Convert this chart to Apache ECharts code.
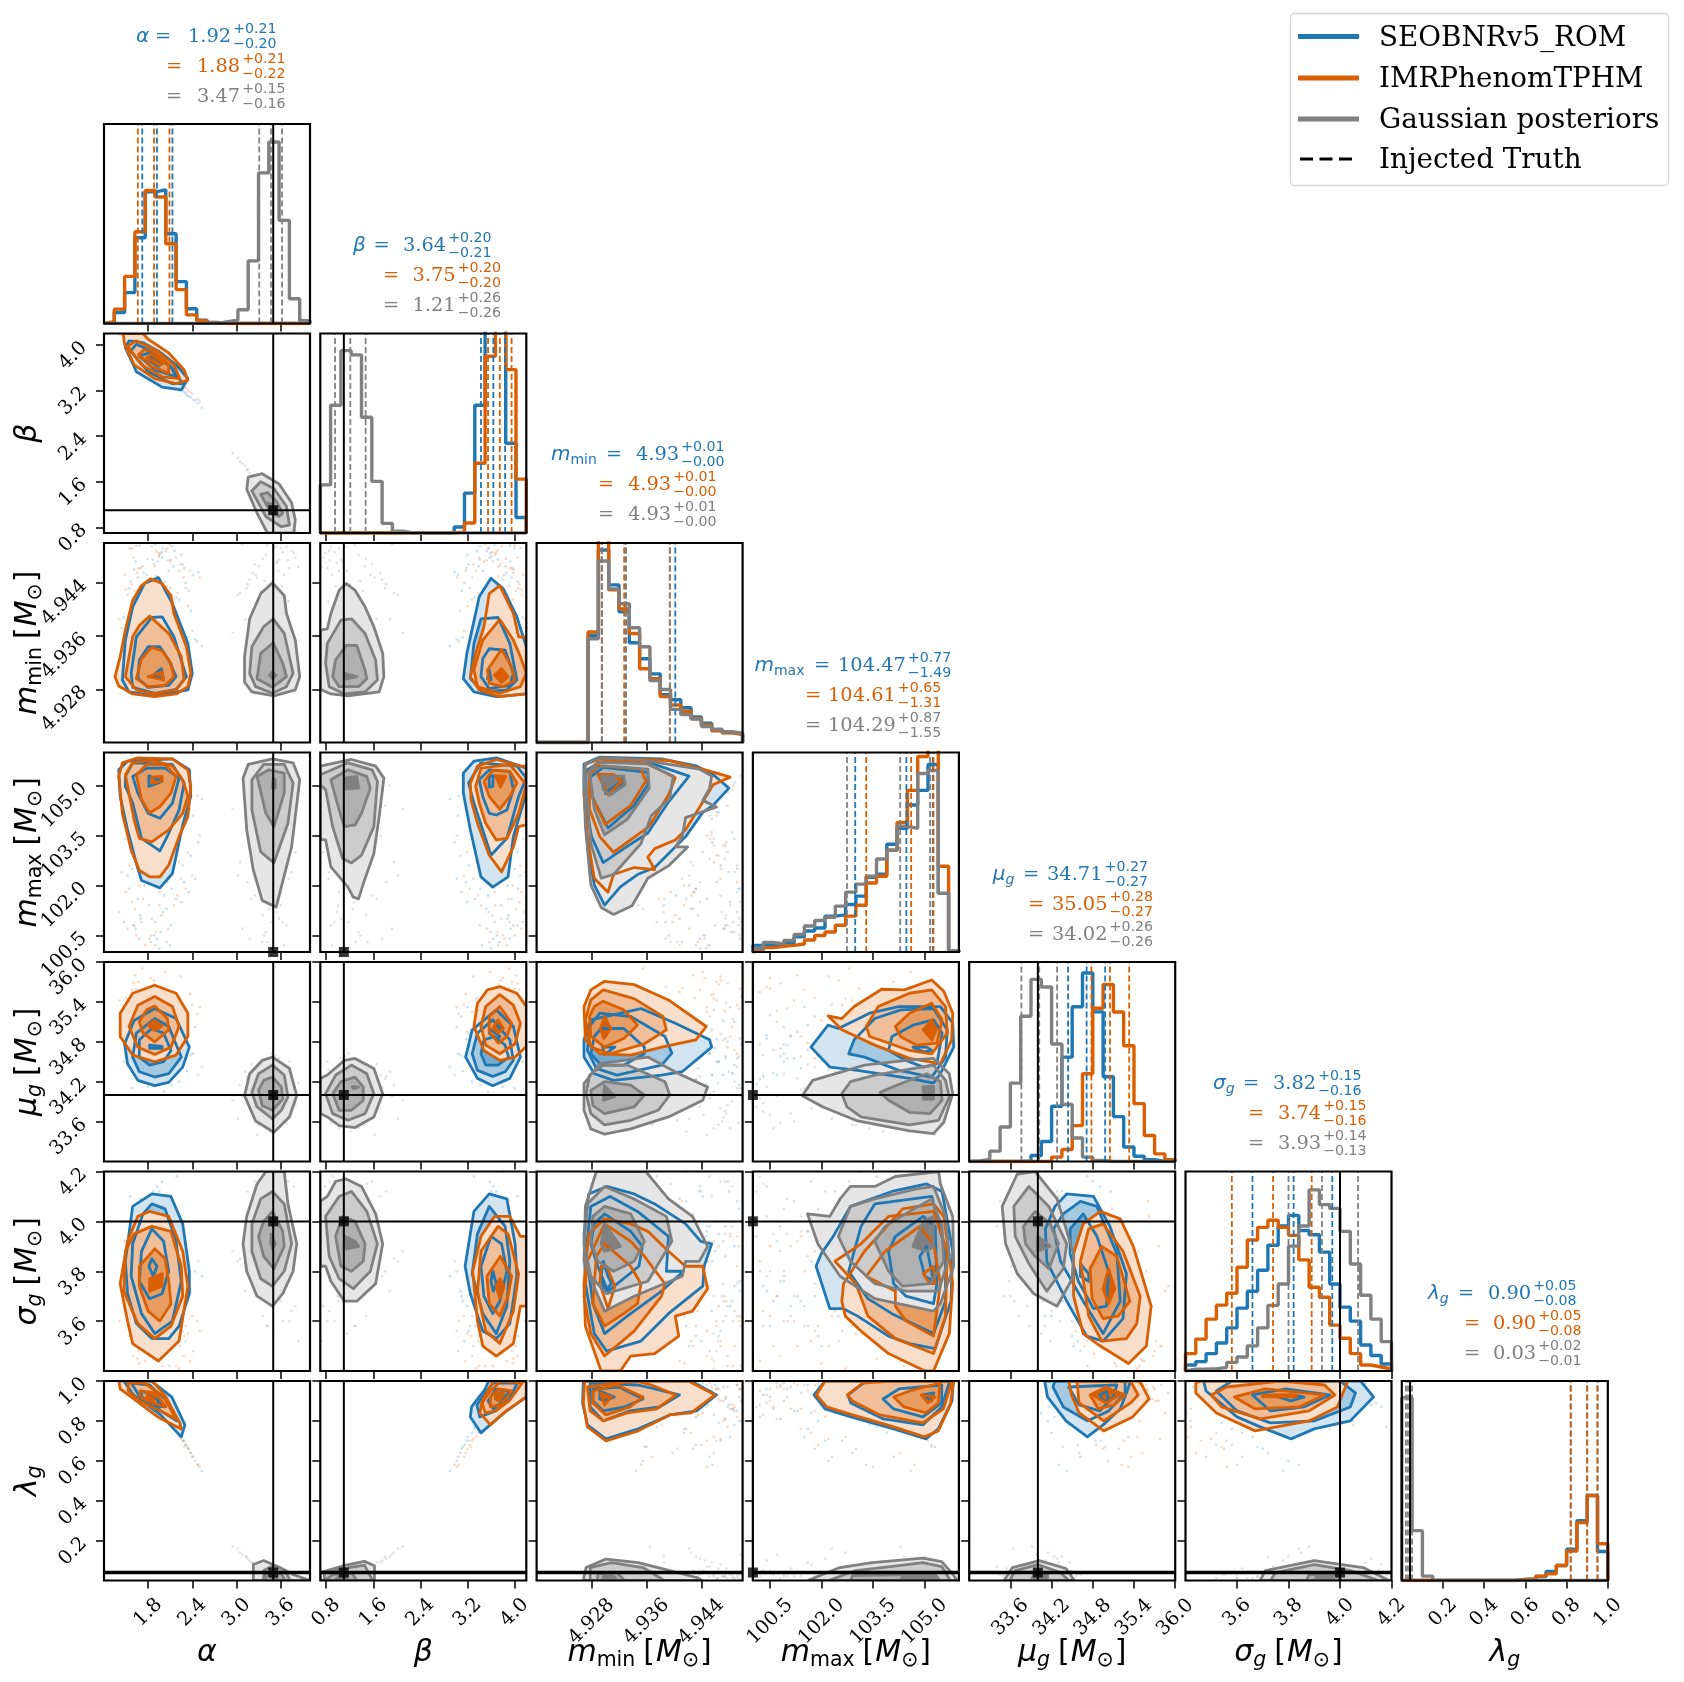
<!DOCTYPE html>
<html><head><meta charset="utf-8">
<style>html,body{margin:0;padding:0;background:#fff}#c{width:1684px;height:1682px}</style>
<script src="https://cdn.jsdelivr.net/npm/echarts@6/dist/echarts.min.js"></script>
</head><body><div id="c"></div><script>
// ---------- axis ranges, ticks, truth ----------
const paramKeys=['alpha','beta','mmin','mmax','mug','sigg','lamg'];
const ranges=[[1.2,4.0],[0.7,4.2],[4.92,4.95],[100,106],[33,36],[3.4,4.2],[0,1]];
const tickLabels=[['1.8','2.4','3.0','3.6'],['0.8','1.6','2.4','3.2','4.0'],['4.928','4.936','4.944'],['100.5','102.0','103.5','105.0'],['33.6','34.2','34.8','35.4','36.0'],['3.6','3.8','4.0','4.2'],['0.2','0.4','0.6','0.8','1.0']];
const truth=[3.5,1.1,null,100,34.0,4.0,0.04];
const seriesNames=['SEOBNRv5_ROM','IMRPhenomTPHM','Gaussian posteriors'];
const colors={b:'#1f77b4',o:'#d95f02',g:'#808080'};
// ---------- histograms (height as % of panel, 20 bins) ----------
const hist_alpha={b:[.5,5.5,15.5,43,66,67,45,21,7.4,1.7,.5,0,0,0,0,0,0,0,0,0],o:[.9,7.2,23.6,46,66.7,63.4,40,17,4.3,1.4,.3,0,0,0,0,0,0,0,0,0],g:[0,0,0,0,0,0,0,0,0,0,0,.9,1.7,6.9,31.4,75.5,91,51.7,12.4,1.4]};
const hist_beta={b:[0,0,0,0,0,0,0,0,0,0,0,0,0,3,20,64,110,110,45,7.8],o:[0,0,0,0,0,0,0,0,0,0,0,0,0,.5,5,35,88.6,110,81.9,27],g:[24.1,64,91.4,89.3,58,25.9,4.8,.9,0,0,0,0,0,0,0,0,0,0,0,0]};
const hist_mmin={b:[0,0,0,0,0,53.7,96.5,79,65.5,50,42,34.4,24,21.4,17.4,12.8,9.7,6.6,5,4.5],o:[0,0,0,0,0,55.4,105,76.5,67,54.6,37,32,23,18.8,15.7,12,8.8,5.9,4.8,4],g:[0,0,0,0,0,52,91,77,69.6,57.5,48,31,26.6,16.6,14,11.7,8,6.6,5.4,4.5]};
const hist_mmax={b:[3.3,3.2,3,4.5,7.6,10.5,12,18,18.6,23.8,28,37.5,39,54,62,73.7,81,94,29.4,.7],o:[1,2.2,2.8,3.3,4,6,8.3,10,13.4,18,23.4,34.6,38,51,65,81,98,105,43,.7],g:[1.9,4.8,4,5.8,8.8,13,15.8,17.4,23,30,34,38,46.6,51,63,62,89.5,91,29.4,.7]};
const hist_mug={b:[0,0,0,0,0,.3,3,10,27.7,52.3,77.6,94.5,75,42.5,22.5,7.3,2.6,.9,0,0],o:[0,0,0,0,0,0,0,0,2.2,6,18,44,76.8,88.7,74.9,58,29,13,3.8,.9],g:[.3,1,5.2,17.3,39.3,72.8,91.3,87.5,58.9,28.6,11.8,2.2,.5,0,0,0,0,0,0,0]};
const hist_sigg={b:[3,4.7,8.7,14,21.6,31.5,40,50.5,63,72.7,78,70.4,68.3,59.6,43.6,32,25,13,7.8,3.5],o:[8.7,16,26,33,39,52,65.7,72,75.6,72,68,55.7,42,37,23,16.4,8.7,3,2,1],g:[.9,.9,1.2,1.7,4.3,7,12.6,21.6,32.9,43.6,62.6,72.7,90.8,83.4,81.5,70,53.6,38,26,14.7]};
const hist_lamg={b:[0,0,0,0,0,0,0,0,0,0,0,.5,.8,2,4.5,7.5,15.7,30,42.6,14.5],o:[0,0,0,0,0,0,0,0,0,0,0,.5,.8,2.2,3.3,7.5,14.7,29,42.6,18.4],g:[91.6,25,2.2,0,0,0,0,0,0,0,0,0,0,0,0,0,0,0,0,0]};
const hists=[hist_alpha,hist_beta,hist_mmin,hist_mmax,hist_mug,hist_sigg,hist_lamg];
// ---------- quantiles (16,50,84) ----------
const quant_b=[[1.72,1.92,2.13],[3.43,3.64,3.84],[4.9295,4.933,4.9402],[102.98,104.47,105.24],[34.44,34.71,34.98],[3.66,3.82,3.97],[.82,.9,.95]];
const quant_o=[[1.66,1.88,2.09],[3.55,3.75,3.95],[4.9295,4.93275,4.9394],[103.3,104.61,105.26],[34.78,35.05,35.33],[3.58,3.74,3.89],[.82,.9,.95]];
const quant_g=[[3.31,3.47,3.62],[.95,1.21,1.47],[4.9295,4.933,4.9394],[102.74,104.29,105.16],[33.76,34.02,34.28],[3.8,3.93,4.07],[.02,.03,.05]];
// ---------- title numbers ----------
const titleVals=[
 [['1.92','+0.21','−0.20'],['1.88','+0.21','−0.22'],['3.47','+0.15','−0.16']],
 [['3.64','+0.20','−0.21'],['3.75','+0.20','−0.20'],['1.21','+0.26','−0.26']],
 [['4.93','+0.01','−0.00'],['4.93','+0.01','−0.00'],['4.93','+0.01','−0.00']],
 [['104.47','+0.77','−1.49'],['104.61','+0.65','−1.31'],['104.29','+0.87','−1.55']],
 [['34.71','+0.27','−0.27'],['35.05','+0.28','−0.27'],['34.02','+0.26','−0.26']],
 [['3.82','+0.15','−0.16'],['3.74','+0.15','−0.16'],['3.93','+0.14','−0.13']],
 [['0.90','+0.05','−0.08'],['0.90','+0.05','−0.08'],['0.03','+0.02','−0.01']]];
// ---------- posterior sample rows: alpha,beta,mmin,mmax,mug,sigg,lamg ----------
const samples_b=[[1.72,3.85,4.9465,104.2,34.5,3.95,.96],[2.05,3.52,4.9425,101.3,34.95,3.7,.85],[1.95,3.61,4.948,102.4,34.35,4.12,.88],[2.22,3.28,4.9415,103.9,34.2,3.62,.74],[1.61,3.98,4.946,100.8,34.7,3.88,.98],[1.88,3.7,4.9392,100.5,35.2,3.58,.92],[2.31,3.15,4.944,105.2,34.58,3.52,.68],[2.12,3.42,4.9495,101.9,34.15,4.05,.8],[1.78,3.82,4.9452,102.8,34.62,3.98,.95],[1.99,3.58,4.9478,104.8,34.8,4.16,.87],[2.44,3.02,4.9355,102.2,35.02,3.8,.6],[1.69,3.9,4.9435,101.1,34.88,3.66,.97],[2.16,3.36,4.9488,103.4,34.45,3.9,.78],[1.84,3.74,4.9412,100.3,34.28,3.74,.93],[1.93,3.63,4.9472,105,35.12,3.6,.9],[2.02,3.55,4.9403,101.7,34.05,3.84,.84],[1.56,4.05,4.9442,103,34.66,4.1,.99],[2.27,3.22,4.9468,102.6,34.92,3.56,.7],[1.81,3.77,4.9385,101.4,34.4,4.02,.94],[1.9,3.66,4.9498,100.9,34.76,3.76,.9],[2.08,3.47,4.9458,104.5,35.28,3.92,.83],[1.75,3.88,4.9422,102,34.52,3.5,.96],[2.19,3.31,4.9375,103.6,34.72,4.18,.77],[1.97,3.59,4.9485,100.6,34.33,3.68,.86],[1.66,3.95,4.9448,101.6,35.05,3.96,.98],[2.38,3.08,4.9398,102.9,34.6,3.72,.64],[1.86,3.72,4.9475,103.2,34.85,3.86,.91],[2.1,3.45,4.9432,100.2,34.24,3.8,.82],[1.74,3.86,4.9455,104,34.98,3.64,.95],[2,3.56,4.9492,101.2,34.55,4.08,.85],[2.53,2.9,4.9345,104.6,34.42,3.78,.55],[1.52,4.1,4.9362,102.3,34.68,3.84,.99],[2.14,3.39,4.9465,105.4,34.5,3.54,.79],[1.92,3.64,4.9438,100.4,34.9,4.14,.89],[2.25,3.2,4.9482,101.5,35.32,3.66,.72],[1.8,3.8,4.9418,103.1,34.12,4.2,.94],[1.63,3.93,4.9472,100.7,34.3,3.92,.97],[2.35,3.1,4.9428,101.8,35.18,3.7,.66],[1.58,4,4.9492,102.5,34.1,3.62,.98],[2.41,3.04,4.9452,104.1,34.62,3.48,.62],[1.7,3.88,4.9408,101,34.75,4.09,.96],[2.07,3.49,4.9378,103.7,34.98,3.88,.84],[1.47,4.14,4.9388,100.9,34.5,3.78,.99],[2.29,3.18,4.9462,102.1,34.84,4,.7],[1.95,3.6,4.9447,100.1,34.16,3.94,.87],[2.04,3.53,4.9488,105.1,35.1,3.74,.85],[1.76,3.84,4.9368,102.7,34.42,4.06,.95],[2.18,3.33,4.9418,101.6,34.68,3.58,.76],[2.48,2.98,4.9456,103.3,34.3,3.84,.58],[1.68,3.92,4.9496,100.4,34.85,3.72,.96],[1.87,3.69,4.9348,104.3,35.06,4.12,.92],[2.11,3.41,4.9475,100.8,34.58,3.98,.81],[1.54,4.06,4.9432,101.9,34.72,3.54,.98],[2.33,3.12,4.9358,105.3,34.36,3.68,.67]];
const samples_o=[[1.65,3.98,4.9455,103.6,35.5,3.45,.97],[1.98,3.62,4.9402,101.1,34.9,3.9,.86],[1.88,3.76,4.9468,102.5,35.72,3.52,.9],[2.18,3.4,4.9478,104.4,34.72,3.42,.77],[1.52,4.12,4.9422,100.7,35.1,3.7,.99],[1.82,3.83,4.9388,100.4,35.62,4.02,.93],[2.28,3.28,4.9448,105.1,35.25,3.46,.7],[2.06,3.55,4.9492,102.1,34.62,3.82,.82],[1.7,3.93,4.9462,102.9,35.42,3.58,.96],[1.94,3.68,4.9485,104.9,35.02,3.98,.88],[2.4,3.14,4.9368,102.3,35.36,3.62,.62],[1.62,4.02,4.9428,101.3,35.8,3.5,.98],[2.1,3.48,4.9472,103.2,34.82,3.75,.8],[1.76,3.87,4.9408,100.2,35.55,3.44,.95],[1.89,3.73,4.9465,105.2,35.66,3.66,.91],[1.96,3.66,4.9395,101.8,34.55,3.56,.85],[1.48,4.15,4.9452,103.4,35.18,3.92,.99],[2.22,3.35,4.9458,102.7,35.45,3.41,.72],[1.73,3.9,4.9378,101.6,34.78,3.86,.95],[1.85,3.78,4.9495,101,35.3,3.6,.92],[2.03,3.58,4.9442,104.6,35.85,3.72,.84],[1.68,3.97,4.9415,102,35.12,3.43,.97],[2.13,3.44,4.9382,103.8,35.08,4.05,.78],[1.91,3.71,4.9488,100.6,34.68,3.5,.87],[1.58,4.08,4.9438,101.5,35.58,3.8,.98],[2.34,3.2,4.9405,103,34.95,3.55,.66],[1.79,3.85,4.9476,103.3,35.38,3.68,.92],[2.05,3.57,4.9435,100.3,34.6,3.64,.83],[1.67,3.96,4.9462,104.1,35.7,3.48,.96],[1.95,3.67,4.9482,101.4,34.88,3.94,.86],[2.47,3.05,4.9352,104.7,35.22,3.6,.58],[1.44,4.18,4.9372,102.4,35.05,3.7,.99],[2.09,3.5,4.9498,105.3,35.48,3.42,.8],[1.84,3.8,4.9445,100.5,35.76,3.9,.9],[2.2,3.38,4.9425,101.7,34.72,3.52,.74],[1.75,3.9,4.9412,103.1,35.6,4.08,.95],[1.6,4.05,4.9478,100.8,35.68,3.46,.97],[2.31,3.24,4.9432,101.9,34.85,3.58,.68],[1.55,4.1,4.9492,102.6,35.35,3.94,.98],[2.37,3.17,4.9458,104.3,35.52,3.44,.64],[1.71,3.92,4.9398,100.9,35.02,3.8,.96],[2.01,3.6,4.9362,103.6,34.66,3.66,.85],[1.41,4.18,4.9385,101.2,35.42,3.6,.99],[2.24,3.3,4.9468,102.2,35.78,3.5,.71],[1.9,3.72,4.945,100.2,34.76,3.84,.88],[1.99,3.63,4.9486,105,35.14,3.42,.86],[1.72,3.91,4.9355,102.8,35.9,3.74,.94],[2.15,3.43,4.9415,101.4,34.58,3.96,.76],[2.5,3.02,4.9448,103.5,35.32,3.56,.57],[1.64,4,4.9496,100.5,35.6,3.62,.96],[1.83,3.79,4.9345,104.2,34.82,3.47,.92],[2.07,3.53,4.9474,100.7,35.26,3.7,.81],[1.5,4.12,4.943,101.8,35.46,3.88,.98],[2.29,3.26,4.936,105.2,34.98,3.54,.67]];
const samples_g=[[3.22,1.72,4.9455,103.5,34.3,4.1,.09],[3.55,.98,4.947,101.2,33.6,3.7,.02],[3.4,1.35,4.9482,100.6,33.5,3.95,.03],[3.05,1.95,4.9425,102.7,34.15,3.85,.14],[3.72,.82,4.9462,104.2,34.5,3.6,.01],[3.35,1.5,4.9395,100.3,33.75,4.15,.05],[3.6,1.02,4.9492,101.8,34.42,3.75,.02],[3.28,1.62,4.9448,105.3,33.4,3.98,.07],[3.48,1.18,4.9375,100.9,34.62,4.05,.03],[3.8,.75,4.9478,103,33.85,3.66,.01],[3.15,1.82,4.9438,102.1,34.28,4.12,.11],[3.52,1.1,4.9405,104.7,33.62,3.82,.02],[3.42,1.28,4.9497,101.5,34.1,3.58,.04],[3.65,.9,4.9452,100.2,33.95,4.18,.02],[3.3,1.45,4.9465,102.9,33.55,3.9,.06],[3.12,1.88,4.9385,105,34.35,3.72,.12],[3.58,1.05,4.9475,101,34.55,3.95,.02],[3.45,1.22,4.9418,103.8,33.45,4.08,.03],[3.75,.85,4.9488,102.4,34.2,3.64,.01],[3.38,1.38,4.9443,100.5,33.7,3.8,.05],[3.62,.96,4.9435,104.9,34.4,4,.02],[3.25,1.58,4.9468,101.7,33.8,4.16,.08],[3.5,1.15,4.9458,103.2,34.05,3.55,.03],[2.95,2.1,4.9365,104.3,33.92,3.88,.17],[3.68,.88,4.9494,100.8,33.58,3.76,.01],[3.33,1.42,4.9428,102.6,34.48,4.03,.05],[3.55,1.08,4.9472,105.2,33.66,3.68,.02],[3.44,1.25,4.9355,101.3,34.25,3.92,.04],[3.78,.78,4.9485,103.6,33.9,4.14,.01],[3.18,1.75,4.9445,100.4,34.12,3.78,.1],[3.36,1.48,4.9476,101.1,33.72,3.62,.06],[3.71,.84,4.9412,102.2,34.38,3.86,.02],[3.08,1.92,4.9498,100.7,33.98,4,.13],[3.57,1.02,4.9458,103.4,33.5,3.7,.02],[3.2,1.66,4.9386,101.6,34.46,3.96,.09],[3.47,1.2,4.9438,100.1,33.82,4.12,.03],[3.84,.72,4.9464,104.8,34.18,3.52,.01],[3.02,2.02,4.9422,102.3,33.64,3.84,.16],[3.63,.94,4.9486,100.9,34.32,3.6,.02],[3.39,1.33,4.9368,103,33.55,4.06,.04],[3.26,1.55,4.9452,105.1,34.02,3.74,.07],[3.53,1.12,4.9494,101.9,34.58,3.9,.03],[3.42,1.3,4.9405,100.3,33.88,3.58,.04],[3.7,.86,4.9474,102.8,33.76,4.16,.02],[3.14,1.8,4.9432,104.4,34.24,3.8,.12],[3.6,1,4.9348,101.4,34.08,3.68,.02]];
// ---------- contour rings in data units: outer to inner, [xs,ys] or flat x,y pairs ----------
const alpha_beta={b:[[[1.49,1.64,1.99,2.25,2.34,2.18,1.94,1.73,1.54],[3.95,3.53,3.26,3.21,3.41,3.65,3.89,4.04,4.07]],[[1.56,1.8,2.13,2.27,2.15,1.85,1.64],[3.89,3.53,3.32,3.32,3.56,3.89,4.01]],[[1.68,1.89,2.18,2.11,1.85],[3.8,3.56,3.44,3.62,3.88]],[[1.8,1.94,1.99,1.87],[3.74,3.62,3.68,3.8]]],
o:[[[1.46,1.48,1.61,1.89,2.18,2.34,2.29,2.08,1.8,1.73],[4.2,4.01,3.65,3.41,3.32,3.38,3.56,3.86,4.1,4.2]],[[1.52,1.71,1.99,2.23,2.15,1.89,1.64],[3.98,3.65,3.44,3.41,3.65,3.92,4.07]],[[1.67,1.85,2.08,2.08,1.89,1.75],[3.83,3.62,3.5,3.65,3.86,3.92]],[[1.78,1.94,2.01,1.85],[3.77,3.65,3.68,3.83]]],
g:[[[3.14,3.16,3.35,3.58,3.75,3.8,3.78,3.42,3.28],[1.47,1.68,1.74,1.56,1.23,.93,.7,.7,1.05]],[[3.21,3.33,3.51,3.68,3.72,3.61,3.4],[1.44,1.6,1.48,1.17,.84,.81,.99]],[[3.33,3.42,3.54,3.63,3.58,3.47],[1.38,1.41,1.26,1.05,.99,1.05]],[[3.42,3.49,3.54,3.49],[1.23,1.2,1.11,1.05]]]};
const alpha_mmin={b:[[[1.94,2.13,2.34,2.4,2.34,1.89,1.54,1.45,1.49,1.59,1.75],[4.9448,4.9409,4.9349,4.9304,4.9279,4.927,4.9276,4.9294,4.9354,4.9404,4.9439]],[[1.85,1.99,2.15,2.32,2.18,1.89,1.59,1.57,1.64],[4.9388,4.9389,4.9359,4.9299,4.928,4.9274,4.9283,4.9304,4.9359]],[[1.8,1.96,2.08,2.18,2.08,1.8,1.66,1.68],[4.9344,4.9344,4.9324,4.9299,4.9286,4.9283,4.9296,4.9324]],[[1.87,1.98,2.01],[4.9301,4.9311,4.9294]]],
o:[[[1.83,1.99,2.11,2.15,2.32,2.38,2.34,2.18,1.89,1.59,1.4,1.35,1.42,1.49,1.59,1.71],[4.9446,4.9439,4.9421,4.9394,4.9344,4.9304,4.9284,4.9273,4.9269,4.9273,4.9285,4.9299,4.9329,4.9369,4.9414,4.9436]],[[1.82,2.08,2.25,2.29,2.18,1.89,1.64,1.49,1.59,1.68],[4.939,4.9364,4.9329,4.9294,4.9279,4.9273,4.9279,4.9299,4.9359,4.9376]],[[1.85,1.99,2.11,2.15,2.03,1.8,1.64,1.71],[4.9343,4.9338,4.9319,4.9299,4.9286,4.9284,4.9296,4.9326]],[[1.8,1.99,2.01],[4.9299,4.9306,4.9294]]],
g:[[[3.49,3.65,3.68,3.8,3.86,3.8,3.51,3.21,3.11,3.11,3.18,3.33],[4.944,4.9421,4.9394,4.9354,4.9299,4.9279,4.927,4.9276,4.9291,4.9329,4.9386,4.9424]],[[3.5,3.65,3.77,3.68,3.49,3.26,3.18,3.21,3.37],[4.9386,4.9364,4.9304,4.9284,4.9274,4.9284,4.9304,4.9344,4.9374]],[[3.5,3.63,3.68,3.49,3.28,3.33],[4.935,4.9319,4.9299,4.9283,4.9296,4.9334]],[[3.49,3.54,3.49,3.45],[4.9306,4.9301,4.9296,4.9301]]]};
const beta_mmin={b:[[[3.6,3.81,4.04,4.2,4.2,3.69,3.31,3.13,3.19,3.4],[4.9447,4.9431,4.9389,4.9344,4.9273,4.9269,4.9276,4.9296,4.9334,4.9419]],[[3.43,3.72,3.92,4.04,3.87,3.46,3.25,3.31],[4.9386,4.9388,4.9349,4.9294,4.9279,4.9276,4.9296,4.9349]],[[3.57,3.84,3.98,3.92,3.57,3.43,3.46],[4.9341,4.9339,4.9304,4.9286,4.9281,4.9299,4.9326]],[[3.57,3.6,3.54],[4.9309,4.9294,4.9296]]],
o:[[[3.75,3.98,4.07,4.2,4.2,3.75,3.4,3.25,3.34,3.48,3.57],[4.9436,4.9394,4.9359,4.9358,4.9273,4.9269,4.9279,4.9299,4.9334,4.9374,4.9424]],[[3.75,3.98,4.1,4.2,4.1,3.75,3.37,3.31,3.46],[4.9385,4.9354,4.9329,4.9304,4.9284,4.9274,4.9284,4.9309,4.9354]],[[3.78,3.95,4.01,3.81,3.57,3.54],[4.934,4.9314,4.9294,4.9284,4.9289,4.9309]],[[3.78,3.89,3.78,3.66],[4.9311,4.9299,4.929,4.9301]]],
g:[[[.7,.82,.88,1.02,1.14,1.29,1.46,1.61,1.76,1.78,1.7,1.17,.88,.7],[4.9369,4.9371,4.9394,4.9429,4.9439,4.9429,4.9404,4.9374,4.9334,4.9299,4.9276,4.927,4.9273,4.928]],[[.82,1.05,1.23,1.46,1.64,1.67,1.46,1.11,.85,.79],[4.9349,4.9384,4.9386,4.9364,4.9324,4.9294,4.9276,4.9273,4.9284,4.9319]],[[.96,1.14,1.32,1.46,1.49,1.35,1.02,.91],[4.9324,4.9346,4.9346,4.9309,4.9296,4.9284,4.9284,4.9299]],[[1.11,1.32,1.11],[4.9304,4.9299,4.9295]]]};
const alpha_mmax={b:[[[1.4,1.52,2.13,2.36,2.38,2.27,2.13,1.96,1.71,1.64,1.52,1.42],[105.48,105.74,105.81,105.48,104.68,103.82,102.36,101.93,102.15,102.66,103.67,104.68]],[[1.49,1.59,2.13,2.29,2.22,2.08,1.96,1.71,1.59,1.49],[105.28,105.69,105.64,105.08,104.27,103.57,103.04,103.42,104.48,104.98]],[[1.59,1.78,2.03,2.22,2.13,1.96,1.8,1.66],[105.28,105.53,105.53,105.23,104.48,104.02,104.17,104.78]],[[1.81,1.99,1.81],[105.3,105.13,104.98]]],
o:[[[1.4,1.45,1.66,2.13,2.34,2.38,2.34,2.22,2.08,1.96,1.82,1.68,1.57,1.45],[105.28,105.69,105.84,105.81,105.48,104.98,104.07,103.47,102.61,102.26,102.26,102.46,103.06,104.17]],[[1.49,1.59,1.85,2.13,2.27,2.34,2.27,2.08,1.85,1.68,1.61],[105.33,105.69,105.77,105.59,105.18,104.68,104.17,103.67,103.31,103.42,103.97]],[[1.64,1.78,2.03,2.18,2.11,1.96,1.82,1.71],[105.33,105.64,105.64,105.28,104.78,104.37,104.19,104.58]],[[1.85,1.99,1.99,1.85],[105.26,105.28,105.13,105.08]]],
g:[[[3.09,3.16,3.49,3.77,3.86,3.8,3.75,3.54,3.35,3.23,3.14],[105.23,105.64,105.81,105.69,105.18,104.07,103.16,101.35,101.55,102.46,103.67]],[[3.21,3.37,3.65,3.77,3.7,3.51,3.33,3.21],[105.18,105.64,105.64,105.08,103.87,102.68,103.01,104.27]],[[3.28,3.44,3.65,3.65,3.51,3.4],[105.28,105.48,105.38,104.78,103.77,104.17]],[[3.5,3.53,3.53,3.49],[105.23,105.18,104.93,104.93]]]};
const beta_mmax={b:[[[3.13,3.31,3.69,4.2,4.2,3.98,3.89,3.63,3.43,3.25,3.13],[105.38,105.74,105.84,105.53,104.78,103.47,102.26,101.95,102.26,103.67,104.78]],[[3.22,3.43,4.04,4.2,4.07,3.87,3.6,3.46,3.31],[105.08,105.69,105.59,105.23,104.68,103.42,102.91,103.67,104.48]],[[3.4,3.57,3.92,3.98,3.87,3.69,3.57,3.46],[105.18,105.48,105.43,104.88,104.27,104.12,104.17,104.68]],[[3.57,3.64,3.63,3.57],[105.28,105.3,104.98,104.96]]],
o:[[[3.25,3.37,3.69,4.1,4.2,4.2,4.07,3.98,3.78,3.57,3.37,3.26],[105.08,105.59,105.79,105.59,105.59,103.82,103.77,103.16,102.41,102.91,103.87,104.58]],[[3.34,3.43,3.92,4.2,4.07,3.87,3.69,3.51,3.4],[104.98,105.53,105.64,105.03,104.17,103.42,103.37,103.87,104.48]],[[3.48,3.63,3.92,4.04,3.92,3.75,3.57],[105.13,105.46,105.43,105.08,104.68,104.29,104.68]],[[3.68,3.85,3.76],[105.3,105.28,104.96]]],
g:[[[.7,1.23,1.64,1.78,1.7,1.61,1.43,1.35,1.26,1.17,.88,.79,.7],[105.59,105.79,105.59,105.23,104.07,102.96,102.05,101.6,101.65,101.95,102.56,103.37,103.39]],[[.7,1.17,1.58,1.67,1.61,1.4,1.23,1.08,.91,.79,.7],[105.33,105.69,105.48,105.13,103.77,102.91,102.68,102.81,103.77,104.88,105.03]],[[.88,1.17,1.49,1.55,1.4,1.29,1.11,1.02],[105.18,105.48,105.28,104.93,104.17,103.82,103.77,104.27]],[[1.11,1.32,1.35,1.14],[105.23,105.28,104.93,104.9]]]};
const mmin_mmax={b:[[[4.9269,4.9269,4.9292,4.9382,4.9432,4.9457,4.948,4.9457,4.9442,4.9417,4.9372,4.9347,4.9322,4.9299,4.9284,4.9274],[104.82,105.65,105.86,105.81,105.6,105.34,104.93,104.41,104.2,103.47,102.54,102.33,101.96,101.41,102.02,103.26]],[[4.9272,4.9292,4.9362,4.9422,4.9392,4.9362,4.9327,4.9297,4.928,4.9272],[105.45,105.71,105.71,105.29,104.51,103.58,103.11,102.69,103.47,104.41]],[[4.9277,4.9297,4.9362,4.9362,4.9342,4.9304,4.9282],[105.24,105.55,105.4,105.03,104.41,103.73,104.62]],[[4.93,4.9327,4.9317],[104.77,105.19,104.88]]],
o:[[[4.9269,4.9271,4.9297,4.9392,4.9442,4.9482,4.9457,4.9442,4.9417,4.9402,4.9372,4.9362,4.9372,4.9342,4.9312,4.9304,4.9284,4.9274],[104.72,105.65,105.84,105.76,105.5,105.26,105.03,104.51,103.68,103.37,103.11,102.85,102.48,102.54,102.33,101.8,102.22,103.47]],[[4.9277,4.9297,4.9357,4.9402,4.9392,4.9364,4.9312,4.9292,4.9277],[105.45,105.76,105.71,105.24,104.72,103.78,103,103.47,104.3]],[[4.9277,4.9292,4.9352,4.9359,4.9337,4.93,4.9282],[105.34,105.6,105.5,105.14,104.41,103.84,104.62]],[[4.9289,4.9312,4.9324,4.9304],[105.34,105.34,105.14,104.72]]],
g:[[[4.9269,4.9271,4.9292,4.9352,4.9437,4.9455,4.9452,4.9442,4.9462,4.9417,4.9412,4.9402,4.942,4.9392,4.9362,4.9339,4.9312,4.9294,4.9279,4.9271],[105.24,105.65,105.84,105.78,105.5,105.29,104.93,104.56,104.36,104.04,103.47,103.16,103.16,102.59,102.22,101.39,101.13,101.34,102.02,103.78]],[[4.9271,4.9289,4.9362,4.9399,4.9394,4.9367,4.9352,4.9312,4.9294,4.9279],[105.34,105.71,105.65,105.29,104.62,104.1,103.26,102.33,102.22,103.26]],[[4.9277,4.9297,4.9362,4.9364,4.9332,4.9299,4.9284],[105.45,105.6,105.5,104.93,103.99,103.52,104.3]],[[4.9294,4.9327,4.9329,4.9307,4.9297],[105.29,105.29,105.03,104.72,104.88]]]};
const alpha_mug={b:[[[1.89,2.18,2.36,2.27,2.08,1.89,1.66,1.52,1.48,1.61],[35.3,35.15,34.72,34.42,34.19,34.14,34.22,34.47,34.77,35.12]],[[1.89,2.08,2.25,2.08,1.89,1.68,1.59,1.64],[35.15,35.03,34.57,34.32,34.27,34.35,34.57,34.93]],[[1.85,2.01,2.11,2.01,1.82,1.68,1.68],[35,34.93,34.67,34.5,34.45,34.57,34.83]],[[1.82,1.99,1.99,1.82],[34.75,34.73,34.7,34.7]]],
o:[[[1.89,2.18,2.34,2.34,2.18,1.89,1.59,1.42,1.42,1.59],[35.65,35.53,35.23,34.88,34.6,34.5,34.6,34.88,35.23,35.53]],[[1.89,2.13,2.22,2.11,1.89,1.66,1.54,1.66],[35.48,35.33,35.03,34.72,34.61,34.72,35.03,35.35]],[[1.89,2.06,2.08,1.89,1.73,1.68,1.78],[35.34,35.15,34.98,34.8,34.93,35.1,35.28]],[[1.8,1.89,1.99,1.89],[35.05,35.12,35.04,34.97]]],
g:[[[3.49,3.72,3.82,3.72,3.51,3.26,3.11,3.18,3.35],[34.57,34.4,33.99,33.67,33.44,33.61,33.99,34.32,34.52]],[[3.49,3.65,3.7,3.61,3.49,3.28,3.21,3.3],[34.45,34.3,33.97,33.77,33.64,33.82,34.04,34.32]],[[3.49,3.61,3.63,3.49,3.35,3.3,3.37],[34.27,34.12,33.94,33.77,33.84,34.07,34.22]],[[3.47,3.54,3.54,3.47],[34.04,34.02,33.94,33.94]]]};
const beta_mug={b:[[[3.69,3.98,4.1,3.92,3.63,3.37,3.17,3.28],[35.28,35.03,34.57,34.25,34.14,34.25,34.57,34.98]],[[3.63,3.92,3.98,3.84,3.63,3.37,3.28,3.37],[35.13,34.83,34.52,34.35,34.28,34.37,34.62,34.93]],[[3.66,3.84,3.9,3.72,3.51,3.43,3.48],[34.88,34.75,34.57,34.45,34.45,34.62,34.83]],[[3.6,3.75,3.69,3.57],[34.98,34.88,34.83,34.93]]],
o:[[[3.75,4.04,4.2,4.2,4.01,3.75,3.48,3.31,3.37,3.54],[35.63,35.53,35.33,34.73,34.57,34.52,34.67,35.03,35.38,35.58]],[[3.75,3.98,4.1,4.01,3.75,3.51,3.43,3.51],[35.51,35.35,35.08,34.77,34.62,34.75,35.03,35.33]],[[3.75,3.95,3.87,3.73,3.57,3.57],[35.33,35.08,34.88,34.78,34.95,35.18]],[[3.72,3.81,3.72,3.63],[35.13,35,34.93,35]]],
g:[[[.7,.82,1.11,1.29,1.61,1.76,1.61,1.29,1.02,.82,.7],[34.25,34.3,34.52,34.55,34.4,34.02,33.67,33.51,33.54,33.67,33.72]],[[.79,.96,1.23,1.49,1.61,1.46,1.17,.91],[34.02,34.3,34.45,34.32,34.02,33.72,33.62,33.72]],[[.91,1.05,1.29,1.43,1.43,1.23,1.02],[34.02,34.2,34.27,34.12,33.92,33.77,33.77]],[[1.24,1.35,1.27],[34.13,34.12,34.09]]]};
const mmin_mug={b:[[[4.9352,4.9402,4.9452,4.9455,4.9412,4.9382,4.9312,4.9284,4.9269,4.9269,4.9279],[35.3,35.08,34.83,34.72,34.35,34.3,34.22,34.32,34.57,34.83,35.13]],[[4.9292,4.9337,4.9387,4.9397,4.9382,4.9317,4.9287,4.9274,4.9277],[35.23,35.18,34.88,34.63,34.45,34.3,34.4,34.67,35.03]],[[4.9294,4.9327,4.9357,4.9357,4.9327,4.9294,4.9279,4.9284],[35,35,34.72,34.62,34.45,34.45,34.62,34.88]],[[4.9296,4.9314,4.9299],[34.72,34.72,34.61]]],
o:[[[4.9299,4.9342,4.9392,4.9447,4.9432,4.9382,4.9337,4.9292,4.9271,4.9269,4.9279],[35.71,35.66,35.43,35.03,34.83,34.72,34.6,34.62,34.83,35.33,35.58]],[[4.9297,4.9342,4.9384,4.9389,4.9357,4.9307,4.9279,4.9271,4.9279],[35.58,35.45,35.18,34.98,34.77,34.62,34.72,35.13,35.43]],[[4.9297,4.9327,4.9347,4.9327,4.9299,4.9279,4.9277,4.9284],[35.41,35.28,35.05,34.85,34.72,34.88,35.18,35.33]],[[4.9299,4.9308,4.9298,4.9293],[35.18,35,34.85,35]]],
g:[[[4.9292,4.9327,4.9362,4.9407,4.9449,4.9442,4.9392,4.9337,4.9299,4.9279,4.9269,4.9269],[34.47,34.52,34.57,34.32,34.12,33.92,33.67,33.49,33.41,33.49,33.77,34.17]],[[4.9297,4.9332,4.9387,4.9394,4.9377,4.9337,4.9299,4.9279,4.9272,4.9277],[34.45,34.45,34.2,34,33.77,33.62,33.55,33.72,34.02,34.3]],[[4.9299,4.9337,4.9357,4.9342,4.9299,4.9282,4.9279],[34.2,34.15,34,33.82,33.72,33.84,34.07]],[[4.9299,4.9314,4.9297],[34.14,33.98,33.92]]]};
const mmax_mug={b:[[[101.69,102.19,102.49,103.4,104.25,105.46,105.82,105.85,105.46,105.26,104.56,103.05,102.24],[34.72,35.05,35,35.23,35.33,35.33,35.08,34.72,34.32,34.18,34.25,34.37,34.42]],[[102.79,102.95,103.55,104.31,105.26,105.66,105.61,105.21,104.25,103.25],[34.62,34.83,35.15,35.28,35.3,34.98,34.57,34.27,34.37,34.57]],[[103.95,104.05,104.66,105.26,105.51,105.36,104.96,104.46],[34.67,34.88,35.05,35.13,34.93,34.47,34.42,34.52]],[[104.66,105.06,105.21,104.96],[34.72,34.72,34.67,34.65]]],
o:[[[102.19,102.59,102.95,103.75,104.41,105.21,105.56,105.82,105.79,105.46,104.56,103.55,102.59],[35.19,35.15,35.33,35.59,35.58,35.73,35.56,35.23,34.83,34.47,34.55,34.75,34.98]],[[103.3,103.65,104.56,105.21,105.61,105.66,105.21,104.56,103.85,103.4],[35.03,35.33,35.53,35.58,35.33,34.93,34.62,34.67,34.8,34.88]],[[104.15,104.56,105.21,105.51,105.36,104.76,104.3],[35.03,35.23,35.38,35.13,34.78,34.75,34.88]],[[104.96,105.21,105.34,105.21],[34.98,35.13,34.98,34.83]]],
g:[[[101.44,101.74,103.25,104.46,105.26,105.72,105.82,105.56,105.26,104.56,103.05,102.04],[33.99,34.22,34.45,34.52,34.55,34.32,34.02,33.59,33.42,33.46,33.61,33.82]],[[102.59,102.84,103.55,105.26,105.61,105.72,105.41,104.56,103.15,102.74],[34.02,34.2,34.3,34.45,34.22,33.97,33.62,33.55,33.67,33.82]],[[103.7,104.15,105.06,105.46,105.51,105.16,104.56,103.95],[34.04,34.14,34.32,34.2,33.92,33.72,33.74,33.92]],[[104.96,105.26,105.26,104.96],[34.12,34.13,33.94,33.94]]]};
const alpha_sigg={b:[[[1.85,2.11,2.27,2.36,2.36,2.22,2.08,1.85,1.64,1.52,1.49,1.59],[4.11,4.1,3.99,3.8,3.71,3.58,3.53,3.53,3.59,3.71,3.84,4.06]],[[1.85,2.03,2.18,2.25,2.13,1.89,1.71,1.57,1.59,1.73],[4.07,4.05,3.92,3.76,3.6,3.55,3.63,3.78,3.91,4.03]],[[1.85,2.01,2.08,1.99,1.82,1.68,1.71],[3.97,3.92,3.8,3.71,3.69,3.76,3.88]],[[1.85,1.92,1.87,1.81],[3.85,3.82,3.78,3.82]]],
o:[[[1.82,2.08,2.27,2.34,2.22,1.94,1.59,1.52,1.42,1.52,1.66],[4.04,4.02,3.88,3.74,3.52,3.44,3.51,3.6,3.75,3.92,4.02]],[[1.85,2.11,2.25,2.27,2.11,1.89,1.66,1.47,1.49,1.61],[3.98,3.96,3.82,3.7,3.58,3.53,3.59,3.72,3.88,3.95]],[[1.89,2.03,2.08,2.11,1.96,1.8,1.68,1.68],[3.89,3.85,3.76,3.67,3.6,3.64,3.74,3.82]],[[1.82,1.99,1.99,1.82],[3.77,3.79,3.74,3.72]]],
g:[[[3.4,3.65,3.7,3.82,3.77,3.63,3.49,3.28,3.14,3.09,3.14,3.28],[4.2,4.2,4.07,3.91,3.8,3.71,3.66,3.7,3.8,3.91,4.02,4.15]],[[3.49,3.65,3.75,3.65,3.49,3.33,3.21,3.21,3.33],[4.12,4.07,3.91,3.8,3.74,3.77,3.88,3.99,4.09]],[[3.49,3.63,3.65,3.51,3.37,3.3,3.37],[4.04,3.96,3.9,3.81,3.86,3.94,4]],[[3.47,3.53,3.49,3.47],[3.95,3.91,3.89,3.91]]]};
const beta_sigg={b:[[[3.57,3.87,4.01,4.04,3.92,3.69,3.46,3.25,3.16,3.31],[4.11,4.09,3.91,3.78,3.59,3.53,3.56,3.71,3.82,4.04]],[[3.57,3.84,3.92,3.87,3.69,3.46,3.28,3.37],[4.06,3.98,3.84,3.66,3.55,3.63,3.79,3.95]],[[3.6,3.78,3.87,3.75,3.63,3.48,3.43],[3.94,3.91,3.8,3.68,3.63,3.7,3.82]],[[3.63,3.69,3.64,3.6],[3.8,3.75,3.72,3.76]]],
o:[[[3.66,3.92,4.1,4.2,4.2,4.1,3.98,3.69,3.46,3.37,3.29,3.43],[4.02,4.02,3.94,3.94,3.66,3.66,3.51,3.46,3.5,3.6,3.8,3.94]],[[3.72,3.89,4.07,3.98,3.75,3.51,3.37,3.43],[3.98,3.95,3.79,3.64,3.51,3.56,3.72,3.88]],[[3.76,3.95,3.89,3.75,3.57,3.53],[3.86,3.78,3.7,3.62,3.67,3.78]],[[3.75,3.82,3.75,3.69],[3.77,3.74,3.69,3.74]]],
g:[[[.7,.82,.96,1.14,1.4,1.64,1.76,1.64,1.32,1.11,.88,.79,.7],[4.08,4.1,4.16,4.17,4.14,4.03,3.91,3.75,3.68,3.68,3.76,3.82,3.82]],[[.79,1.02,1.23,1.49,1.67,1.55,1.26,1.02,.85],[4.02,4.1,4.12,4.04,3.91,3.8,3.73,3.77,3.86]],[[.96,1.08,1.29,1.46,1.43,1.23,1.05],[3.94,4.02,4,3.91,3.84,3.8,3.82]],[[1.11,1.29,1.35,1.14],[3.94,3.92,3.9,3.89]]]};
const mmin_sigg={b:[[[4.9276,4.9302,4.9342,4.9372,4.9417,4.9439,4.9455,4.9444,4.9442,4.9392,4.9352,4.9302,4.9284,4.9271,4.9269],[4.11,4.14,4.11,4.07,3.99,3.92,3.91,3.82,3.74,3.63,3.52,3.48,3.55,3.75,3.95]],[[4.9279,4.9307,4.9347,4.9392,4.9389,4.9414,4.9382,4.9332,4.9299,4.9282,4.9272],[4.06,4.1,4.04,3.94,3.8,3.8,3.72,3.62,3.55,3.67,3.88]],[[4.9284,4.9299,4.9337,4.9354,4.9349,4.9304,4.9289,4.9279],[3.99,4.03,3.96,3.9,3.82,3.72,3.82,3.91]],[[4.9297,4.9304,4.9309,4.9299,4.9294],[3.84,3.78,3.75,3.72,3.78]]],
o:[[[4.9269,4.9271,4.9294,4.9322,4.9337,4.9372,4.9407,4.9402,4.9427,4.9449,4.9442,4.9417,4.9392,4.9362,4.9337,4.9299,4.9276],[3.75,3.58,3.4,3.4,3.46,3.47,3.54,3.62,3.64,3.73,3.82,3.82,3.88,3.96,3.99,4.01,3.95]],[[4.9274,4.9299,4.9337,4.9357,4.9387,4.9382,4.9342,4.9299,4.9279,4.9269],[3.84,3.99,3.92,3.86,3.75,3.7,3.56,3.46,3.55,3.7]],[[4.9287,4.9299,4.9337,4.9352,4.9347,4.9327,4.9299,4.9282],[3.86,3.91,3.82,3.75,3.67,3.63,3.58,3.67]],[[4.9294,4.9302,4.9314,4.9304,4.9292],[3.82,3.82,3.74,3.65,3.75]]],
g:[[[4.9287,4.9359,4.9392,4.9427,4.9449,4.9437,4.9417,4.9412,4.9342,4.9299,4.9282,4.9269,4.9271],[4.2,4.2,4.09,4.02,3.9,3.84,3.84,3.78,3.7,3.64,3.75,3.84,4.06]],[[4.9274,4.9299,4.9342,4.9389,4.9397,4.9362,4.9302,4.9279,4.9269],[4.07,4.14,4.09,4.02,3.92,3.76,3.71,3.78,3.91]],[[4.9282,4.9299,4.9337,4.9357,4.9342,4.9312,4.9289,4.9279],[4.02,4.06,4.03,3.92,3.84,3.8,3.84,3.92]],[[4.9299,4.9317,4.9322,4.9299,4.9294],[3.99,3.92,3.9,3.88,3.91]]]};
const mmax_sigg={b:[[[101.84,101.99,102.34,102.84,104.05,105.06,105.51,105.82,105.77,105.31,104.56,103.95,103.05,102.64,102.24],[3.82,3.87,3.94,4.06,4.12,4.15,4.12,3.88,3.68,3.49,3.51,3.54,3.62,3.65,3.65]],[[102.79,103.15,103.55,105.21,105.61,105.61,105.26,104.05,103.35],[3.8,3.98,4.07,4.1,3.88,3.68,3.55,3.63,3.69]],[[103.95,104.15,104.96,105.31,105.36,105.26,104.46,104.1],[3.88,3.94,4.02,3.98,3.75,3.67,3.7,3.75]],[[104.86,105.06,105.26,105.01],[3.86,3.9,3.76,3.78]]],
o:[[[102.64,103.25,104.36,105.26,105.56,105.82,105.72,105.26,105.01,103.95,103.15,102.69,102.59],[3.75,3.88,4.05,4.07,4.02,3.75,3.55,3.4,3.4,3.47,3.56,3.62,3.68]],[[102.39,103.15,103.95,105.26,105.66,105.61,105.26,104.15,103.35,103],[3.84,3.91,4.02,4.04,3.88,3.62,3.47,3.53,3.62,3.75]],[[103.3,103.85,104.86,105.26,105.46,105.26,104.46,104.15,104.15],[3.78,3.88,3.98,3.91,3.75,3.54,3.6,3.66,3.72]],[[104.96,105.26,105.31,105.16],[3.79,3.82,3.75,3.75]]],
g:[[[101.59,102.24,102.54,102.84,103.55,104.15,105.41,105.46,105.82,105.85,105.46,105.26,103.55,102.54,101.89],[4.03,4.02,4.09,4.14,4.14,4.18,4.2,4.15,4.02,3.82,3.67,3.64,3.69,3.78,3.91]],[[102.49,102.84,103.55,104.76,105.26,105.61,105.72,105.41,104.46,103.55,102.84],[3.94,4.06,4.09,4.13,4.14,4.02,3.86,3.72,3.72,3.75,3.84]],[[103.55,103.85,104.56,105.21,105.51,105.56,105.16,104.36,103.95],[3.92,3.98,4.04,4.09,3.98,3.84,3.75,3.74,3.8]],[[104.66,104.96,105.26,105.26,105.06],[3.9,4,4.02,3.9,3.88]]]};
const mug_sigg={b:[[[34.25,34.42,34.81,35.05,35.29,35.24,34.95,34.71,34.42,34.13,34.11],[4.06,4.11,4.1,3.98,3.79,3.61,3.52,3.54,3.68,3.84,3.97]],[[34.37,34.62,34.86,35.15,35.2,34.95,34.66,34.33,34.23],[4.03,4.08,4.06,3.87,3.68,3.55,3.68,3.84,3.97]],[[34.47,34.66,34.86,35.03,35,34.81,34.59,34.47],[3.97,4.03,3.94,3.8,3.66,3.65,3.76,3.87]],[[34.62,34.74,34.74,34.62],[3.83,3.79,3.76,3.78]]],
o:[[[34.52,34.66,34.91,35.2,35.39,35.65,35.58,35.32,34.91,34.66,34.52],[3.87,3.99,4.04,4.01,3.9,3.66,3.5,3.43,3.5,3.55,3.7]],[[34.62,34.74,34.95,35.24,35.49,35.44,35.29,34.93,34.74],[3.84,3.97,3.99,3.88,3.7,3.59,3.53,3.52,3.62]],[[34.76,34.93,35.15,35.34,35.17,34.95,34.79],[3.81,3.9,3.86,3.68,3.62,3.61,3.69]],[[35.03,35.12,35.03,34.95],[3.81,3.73,3.67,3.73]]],
g:[[[33.48,33.7,33.96,34.28,34.52,34.5,34.28,33.94,33.7,33.53],[4.06,4.19,4.2,4.09,3.87,3.77,3.66,3.71,3.79,3.91]],[[33.65,33.87,34.16,34.42,34.37,34.13,33.87,33.67],[4.06,4.14,4.06,3.91,3.81,3.72,3.83,3.94]],[[33.79,33.96,34.18,34.3,34.16,33.96,33.82],[3.98,4.04,3.99,3.91,3.81,3.86,3.91]],[[34,34.18,33.99],[3.94,3.9,3.88]]]};
const alpha_lamg={b:[[[1.47,1.84,2.12,2.3,2.25,1.97,1.6],[1,1,.92,.78,.72,.83,.93]],[[1.57,1.82,2.08,2.19,1.97,1.69],[.99,.98,.89,.8,.85,.92]],[[1.71,1.86,2.01,1.9,1.71],[.95,.93,.87,.88,.92]],[[1.93,1.99,1.93,1.9],[.89,.88,.86,.88]]],
o:[[[1.4,1.86,2.04,2.23,2.25,1.93,1.64,1.42],[1,1,.92,.79,.76,.82,.9,.96]],[[1.53,1.75,2.01,2.18,1.97,1.68,1.53],[.99,.99,.92,.81,.85,.9,.95]],[[1.69,1.9,2.04,1.86,1.69],[.95,.94,.87,.89,.92]],[[1.79,1.88,1.88,1.79],[.94,.93,.9,.91]]],
g:[[3.23,0,3.23,.08,3.37,.1,3.59,.065,3.77,.03,4,0],[3.37,0,3.37,.05,3.51,.075,3.66,.05,3.73,0],[3.4,0,3.4,.03,3.53,.04,3.62,.03,3.66,0],[3.48,0,3.48,.015,3.55,.015,3.55,0]]};
const beta_lamg={b:[[[3.56,4.2,4.2,3.82,3.43,3.25,3.27,3.5],[1,1,.92,.84,.74,.82,.87,.96]],[[3.64,4.05,3.91,3.68,3.41,3.36,3.5],[.99,.99,.91,.85,.82,.88,.94]],[[3.68,3.91,3.77,3.64,3.55],[.96,.95,.89,.86,.9]],[[3.68,3.82,3.75,3.68],[.94,.94,.9,.91]]],
o:[[[3.64,4.2,4.2,3.86,3.59,3.41,3.45],[1,1,.92,.85,.78,.84,.9]],[[3.77,4.13,3.91,3.68,3.5,3.45,3.59],[1,.99,.9,.85,.84,.89,.95]],[[3.73,3.95,3.77,3.59,3.59],[.96,.95,.88,.87,.92]],[[3.68,3.82,3.75,3.68],[.94,.94,.9,.91]]],
g:[[.7,.04,1.09,.074,1.45,.096,1.62,.074,1.62,0,.7,0],[.77,0,.77,.04,1.18,.065,1.45,.077,1.59,0],[.77,0,.91,.03,1.23,.04,1.32,0],[.95,0,1,.015,1.14,.015,1.18,0]]};
const mmin_lamg={b:[[[4.9268,4.9425,4.9462,4.9433,4.9394,4.9348,4.9301,4.9274,4.9267],[1,1,.93,.85,.83,.76,.71,.78,.89]],[[4.9278,4.9348,4.9408,4.9379,4.9336,4.9297,4.9278],[.99,.98,.93,.87,.85,.8,.87]],[[4.9282,4.932,4.9355,4.9328,4.9297,4.9282],[.96,.97,.91,.87,.85,.9]],[[4.9292,4.9313,4.9299,4.9292],[.95,.92,.9,.91]]],
o:[[[4.927,4.9421,4.946,4.9425,4.9394,4.9348,4.9301,4.9274,4.9268],[1,1,.93,.84,.83,.75,.7,.77,.89]],[[4.9274,4.9344,4.9367,4.9403,4.9375,4.9332,4.9297,4.9278],[.97,1,.98,.93,.86,.84,.8,.85]],[[4.9282,4.9317,4.9355,4.9336,4.9301,4.9282],[.95,.98,.92,.87,.83,.89]],[[4.9293,4.9309,4.9299],[.94,.92,.88]]],
g:[[[4.9268,4.9272,4.9301,4.9348,4.9394,4.9433,4.9441],[0,.065,.107,.09,.05,.015,0]],[[4.9278,4.9278,4.9309,4.9355,4.9386],[0,.065,.09,.065,0]],[[4.9289,4.9289,4.9317,4.9328],[0,.035,.04,0]],[[4.9297,4.9297,4.9313,4.9317],[0,.02,.02,0]]]};
const mmax_lamg={b:[[101.78,.93,102.1,1,105.83,1,105.8,.9,105.4,.76,105.04,.71,104.1,.76,102.85,.82,102.1,.86],[102.77,.93,103.3,1,105.73,1,105.5,.87,104.95,.78,103.8,.81,102.85,.89],[103.79,.91,104.25,.96,105.5,.98,105.5,.89,104.95,.82,104.1,.86],[104.95,.93,105.27,.94,105.2,.9]],
o:[[101.85,.93,102.1,1,105.85,1,105.75,.88,105.4,.75,105,.72,104.1,.77,102.9,.83,102.15,.87],[102.75,.93,103.2,.99,104,1,105.8,1,105.55,.86,104.95,.79,103.7,.83,102.9,.9],[104.1,.92,104.57,.95,105.45,.99,105.4,.89,105.04,.84,104.4,.87],[104.9,.93,105.3,.92,105.1,.89]],
g:[[101.6,0,102.53,.065,103.47,.09,104.95,.112,105.5,.095,105.83,.03,105.95,0],[102.2,0,103,.05,104,.07,104.95,.09,105.5,.07,105.75,0],[102.85,0,102.9,.025,104.35,.03,105.3,.03,105.45,0],[104.3,0,104.35,.02,105,.03,105.35,.02,105.4,0]]};
const mug_lamg={b:[[34.1,1,34.14,.92,34.41,.8,34.72,.72,34.95,.78,35.2,.86,35.3,.95,35.35,1],[34.25,1,34.22,.97,34.37,.87,34.72,.8,35.03,.85,35.27,.94,35.27,1],[34.45,.97,34.6,.88,34.9,.85,35.1,.92,35.15,.98],[34.9,.93,35,.95,35.03,.9,34.95,.9]],
o:[[34.45,1,34.49,.93,34.6,.84,34.96,.75,35.38,.82,35.62,.91,35.5,.99,35.46,1],[34.57,1,34.6,.89,34.96,.8,35.35,.89,35.46,.93,35.35,1],[34.76,.93,34.99,.97,35.27,.93,35.11,.88,34.88,.86],[34.8,.93,34.99,.96,35.19,.93,34.99,.89]],
g:[[33.51,0,33.63,.065,34.02,.1,34.41,.06,34.53,0],[33.59,0,33.67,.05,34,.08,34.33,.04,34.45,0],[33.9,0,33.94,.03,34.14,.03,34.14,0],[33.95,0,33.97,.02,34.1,.02,34.12,0]]};
const sigg_lamg={b:[[3.47,1,3.48,.95,3.6,.82,3.69,.77,3.81,.71,3.9,.76,4.04,.8,4.13,.92,4.08,1],[3.58,1,3.52,.95,3.6,.85,3.73,.79,3.9,.8,4.04,.87,4.06,.94,4,1],[3.66,.93,3.79,.96,3.96,.93,3.86,.87,3.73,.85],[3.76,.92,3.81,.93,3.86,.92,3.81,.9]],
o:[[3.44,.99,3.46,1,4.03,1,3.99,.87,3.88,.8,3.67,.75,3.52,.84,3.44,.94],[3.5,.93,3.56,.97,3.77,1,3.94,.98,3.98,.93,3.88,.85,3.69,.81,3.54,.87],[3.59,.92,3.71,.96,3.94,.93,3.84,.87,3.67,.86],[3.7,.93,3.83,.93,3.83,.92,3.7,.92]],
g:[[3.69,0,3.71,.05,3.9,.1,4.09,.065,4.19,0],[3.73,0,3.75,.04,3.9,.08,4.04,.05,4.15,0],[3.87,0,3.88,.03,3.98,.03,4.01,0],[3.9,0,3.91,.02,3.97,.02,3.98,0]]};
const contours={'0_1':alpha_beta,'0_2':alpha_mmin,'1_2':beta_mmin,'0_3':alpha_mmax,'1_3':beta_mmax,'2_3':mmin_mmax,'0_4':alpha_mug,'1_4':beta_mug,'2_4':mmin_mug,'3_4':mmax_mug,'0_5':alpha_sigg,'1_5':beta_sigg,'2_5':mmin_sigg,'3_5':mmax_sigg,'4_5':mug_sigg,'0_6':alpha_lamg,'1_6':beta_lamg,'2_6':mmin_lamg,'3_6':mmax_lamg,'4_6':mug_lamg,'5_6':sigg_lamg};

// ---------- layout ----------
const colX=[104,320.3,536.6,752.9,969.2,1185.5,1401.8], rowY=[124,333.5,543,752.5,962,1171.5,1381], PW=206, PH=199.5;
const SERIF='"DejaVu Serif"', SANS='"DejaVu Sans"';
const levelMix=[.2,.4,.62,1];
function rgba(hex,a){const n=parseInt(hex.slice(1),16);return `rgba(${n>>16},${(n>>8)&255},${n&255},${a})`;}
function tint(hex,a){const n=parseInt(hex.slice(1),16),m=v=>Math.round(255-(255-v)*a);return `rgb(${m(n>>16)},${m((n>>8)&255)},${m(n&255)})`;}
function ringPts(r){if(Array.isArray(r[0])){const n=Math.min(r[0].length,r[1].length),p=[];for(let i=0;i<n;i++)p.push([r[0][i],r[1][i]]);return p;}const p=[];for(let i=0;i+1<r.length;i+=2)p.push([r[i],r[i+1]]);return p;}

const grid=[],xAxis=[],yAxis=[],series=[];
const xLabelDrop={3:32,4:37,5:41};
function baseAxis(gi,p,showLabel,isY){
  const vals=tickLabels[p].map(Number),dec=(tickLabels[p][0].split('.')[1]||'').length,len=tickLabels[p][0].length;
  return {type:'value',gridIndex:gi,min:ranges[p][0],max:ranges[p][1],splitLine:{show:false},axisLine:{show:false},
    axisTick:{show:true,inside:false,length:8,lineStyle:{color:'#000',width:1.5},customValues:vals},
    axisLabel:{show:showLabel,customValues:vals,formatter:v=>Number(v).toFixed(dec),rotate:45,hideOverlap:false,
      fontFamily:SERIF,fontSize:19.4,color:'#000',margin:isY?20:xLabelDrop[len],align:isY?'right':'center',verticalAlign:'middle'}};
}
function vline(gi,x,y0,y1,color,width,dash,z){series.push({type:'line',xAxisIndex:gi,yAxisIndex:gi,data:[[x,y0],[x,y1]],symbol:'none',silent:true,animation:false,z,clip:true,lineStyle:{color,width,type:dash||'solid',cap:'butt'}});}
function hline(gi,y,x0,x1,color,width,z){series.push({type:'line',xAxisIndex:gi,yAxisIndex:gi,data:[[x0,y],[x1,y]],symbol:'none',silent:true,animation:false,z,clip:true,lineStyle:{color,width}});}
const sampleSets={b:samples_b,o:samples_o,g:samples_g}, quants={b:quant_b,o:quant_o,g:quant_g};
for(let r=0;r<7;r++)for(let c=0;c<=r;c++){
  const gi=grid.length;
  grid.push({left:colX[c],top:rowY[r],width:PW,height:PH,show:true,borderColor:'#000',borderWidth:2.2,backgroundColor:'transparent',z:10});
  xAxis.push(baseAxis(gi,c,r===6,false));
  if(c===r){
    yAxis.push({type:'value',gridIndex:gi,min:0,max:100,show:false});
    const [lo,hi]=ranges[c],bw=(hi-lo)/20;
    ['b','o','g'].forEach(k=>{
      const h=hists[c][k],d=[[lo,0]];
      h.forEach((v,i)=>d.push([lo+i*bw,v]));
      d.push([hi,h[19]]);d.push([hi,0]);
      series.push({type:'line',xAxisIndex:gi,yAxisIndex:gi,data:d,step:'end',symbol:'none',silent:true,animation:false,z:3,clip:true,lineStyle:{color:colors[k],width:3.4}});
      quants[k][c].forEach(q=>vline(gi,q,0,100,colors[k],1.8,[6,3],4));
    });
    if(truth[c]!==null&&c!==3)vline(gi,truth[c],0,100,'#000',2,null,5);
  }else{
    yAxis.push(baseAxis(gi,r,c===0,true));
    const cc=contours[c+'_'+r];
    ['b','o','g'].forEach(k=>{
      series.push({type:'scatter',xAxisIndex:gi,yAxisIndex:gi,symbolSize:2.8,silent:true,animation:false,z:1,clip:true,
        itemStyle:{color:rgba(colors[k],.28)},data:sampleSets[k].map(s=>[s[c],s[r]])});
    });
    const addRings=(k,mode)=>{
      const rings=cc[k].map(ringPts),col=colors[k];
      series.push({type:'custom',xAxisIndex:gi,yAxisIndex:gi,silent:true,animation:false,z:mode==='fill'?2:3,clip:true,
        data:rings.map((_,i)=>[i]),encode:{x:[],y:[]},
        renderItem:(params,api)=>{const i=params.dataIndex,pts=rings[i].map(p=>api.coord(p));
          return {type:'polygon',shape:{points:pts},
            style:mode==='fill'?{fill:tint(col,levelMix[i]),stroke:null}:{fill:null,stroke:col,lineWidth:2.8,lineJoin:'round'}};}});
    };
    ['b','o','g'].forEach(k=>addRings(k,'fill'));
    ['b','o','g'].forEach(k=>addRings(k,'line'));
    const [xl,xh]=ranges[c],[yl,yh]=ranges[r];
    if(truth[c]!==null)vline(gi,truth[c],yl,yh,'#000',2,null,5);
    if(truth[r]!==null)hline(gi,truth[r],xl,xh,'#000',r===6?3.4:2,5);
    if(truth[c]!==null&&truth[r]!==null)series.push({type:'scatter',xAxisIndex:gi,yAxisIndex:gi,symbol:'rect',symbolSize:10,silent:true,animation:false,z:6,clip:true,itemStyle:{color:'#000'},data:[[truth[c],truth[r]]]});
  }
}
// ---------- text built from runs ----------
const mctx=document.createElement('canvas').getContext('2d');
function fontStr(run){return `${run.i?'italic ':''}${run.s}px ${run.f||SANS}`;}
function runWidth(run){mctx.font=fontStr(run);return mctx.measureText(run.t).width;}
const graphic=[];
function placeRuns(x0,y0,theta,runs,color){
  let a=0;const ct=Math.cos(theta),st=Math.sin(theta);
  runs.forEach(run=>{
    const s=(run.dy||0)-0.25*run.s;
    graphic.push({type:'text',silent:true,z:20,x:x0+a*ct+s*st,y:y0-a*st+s*ct,rotation:theta,
      style:{text:run.t,font:fontStr(run),fill:color,align:'left',verticalAlign:'middle'}});
    a+=runWidth(run)+(run.gap||0);
  });
  return a;
}
const LS=30,SUB=20.5;
function nameRuns(p){const i=(t,g)=>({t,i:1,s:LS,gap:g||0}),u=(t,g)=>({t,s:LS,gap:g||0}),sb=(t,it,g)=>({t,i:it,s:SUB,dy:5,gap:g||0});
  const unit=[u('[',1),i('M'),sb('⊙',0,1),u(']')];
  return [[i('α')],[i('β')],[i('m'),sb('min',0,8),...unit],[i('m'),sb('max',0,8),...unit],[i('μ'),sb('g',1,8),...unit],[i('σ'),sb('g',1,8),...unit],[i('λ'),sb('g',1)]][p];}
function totalW(runs){return runs.reduce((a,r)=>a+runWidth(r)+(r.gap||0),0);}
for(let p=0;p<7;p++){
  const rx=nameRuns(p);
  placeRuns(colX[p]+PW/2-totalW(rx)/2,1661,0,rx,'#000');
  if(p>0){const ry=nameRuns(p);placeRuns(36,rowY[p]+PH/2+totalW(ry)/2,Math.PI/2,ry,'#000');}
}
// title anchor x positions: symbol, first "=", first number, second "=", second number; then first baseline
const titleAnchors=[[136,155,188,166,197,42],[353,373.6,403,383,412.5,251],[551,606,636,598,628,460],[754.5,814,838,805,828,671],[992.7,1023,1047,1028,1052,880],[1213,1243,1273,1248,1278,1089],[1428,1458,1488,1464,1493,1299]];
const titleSym=[[{t:'α',i:1,s:20}],[{t:'β',i:1,s:20}],[{t:'m',i:1,s:20},{t:'min',s:14,dy:4}],[{t:'m',i:1,s:20},{t:'max',s:14,dy:4}],[{t:'μ',i:1,s:20},{t:'g',i:1,s:14,dy:4}],[{t:'σ',i:1,s:20},{t:'g',i:1,s:14,dy:4}],[{t:'λ',i:1,s:20},{t:'g',i:1,s:14,dy:4}]];
const keyOrder=['b','o','g'];
for(let p=0;p<7;p++){
  const A=titleAnchors[p];
  keyOrder.forEach((k,l)=>{
    const col=colors[k],base=A[5]+l*30,v=titleVals[p][l],xEq=l?A[3]:A[1],xN=l?A[4]:A[2];
    if(!l)placeRuns(A[0],base,0,titleSym[p],col);
    placeRuns(xEq,base,0,[{t:'=',f:SERIF,s:19.4}],col);
    const w=placeRuns(xN,base,0,[{t:v[0],f:SERIF,s:19.4}],col);
    placeRuns(xN+w+2,base-9,0,[{t:v[1],s:14.2}],col);
    placeRuns(xN+w+2,base+5.5,0,[{t:v[2],s:14.2}],col);
  });
}
// ---------- legend ----------
graphic.push({type:'rect',silent:true,z:15,shape:{x:1290.5,y:13.5,width:378,height:172,r:4},style:{fill:'#fff',stroke:'#d4d4d4',lineWidth:1.3}});
[36.5,78,119].forEach((y,i)=>graphic.push({type:'line',silent:true,z:16,shape:{x1:1298,y1:y,x2:1359,y2:y},style:{stroke:colors[keyOrder[i]],lineWidth:5}}));
graphic.push({type:'line',silent:true,z:16,shape:{x1:1300,y1:159,x2:1357,y2:159},style:{stroke:'#000',lineWidth:3,lineDash:[13,6.5]}});
[...seriesNames,'Injected Truth'].forEach((t,i)=>placeRuns(1379,[46,87,128,168][i],0,[{t,f:SERIF,s:27.8}],'#000'));

echarts.init(document.getElementById('c'),null,{renderer:'canvas'}).setOption({animation:false,backgroundColor:'#fff',grid,xAxis,yAxis,series,graphic,tooltip:{show:false}});
</script></body></html>
